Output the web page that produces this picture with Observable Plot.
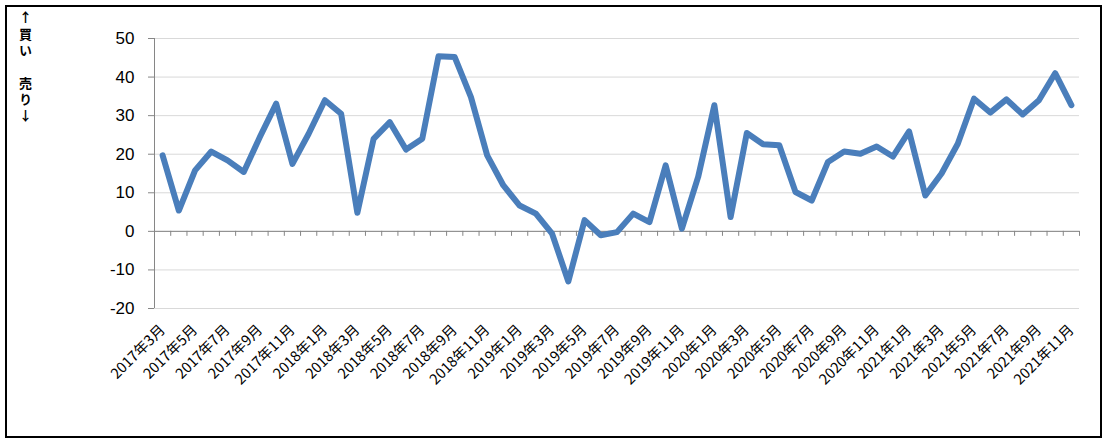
<!DOCTYPE html>
<html><head><meta charset="utf-8">
<script src="https://cdn.jsdelivr.net/npm/d3@7"></script>
<script src="https://cdn.jsdelivr.net/npm/@observablehq/plot@0.6"></script>
<style>
body{margin:0;background:#fff;}
#wrap{position:relative;width:1109px;height:446px;overflow:hidden;}
#frame{position:absolute;left:5px;top:5px;width:1093px;height:429px;border:2px solid #000;}
#side{position:absolute;left:16px;top:11px;writing-mode:vertical-rl;text-orientation:upright;
  font:bold 13px/18px "Noto Sans CJK JP";letter-spacing:3.3px;color:#000;}
#chart svg{position:absolute;left:0;top:0;}
</style></head><body>
<div id="wrap"><div id="frame"></div>
<div id="side">↑買い　売り↓</div>
<div id="chart"></div></div>
<script>
const months = [
 "2017年3月","2017年4月","2017年5月","2017年6月","2017年7月","2017年8月","2017年9月","2017年10月","2017年11月","2017年12月",
 "2018年1月","2018年2月","2018年3月","2018年4月","2018年5月","2018年6月","2018年7月","2018年8月","2018年9月","2018年10月","2018年11月","2018年12月",
 "2019年1月","2019年2月","2019年3月","2019年4月","2019年5月","2019年6月","2019年7月","2019年8月","2019年9月","2019年10月","2019年11月","2019年12月",
 "2020年1月","2020年2月","2020年3月","2020年4月","2020年5月","2020年6月","2020年7月","2020年8月","2020年9月","2020年10月","2020年11月","2020年12月",
 "2021年1月","2021年2月","2021年3月","2021年4月","2021年5月","2021年6月","2021年7月","2021年8月","2021年9月","2021年10月","2021年11月"
];
const values = [
 19.7, 5.4, 15.8, 20.7, 18.4, 15.4, 24.5, 33.1, 17.5, 25.3,
 34.0, 30.5, 4.8, 24.0, 28.3, 21.2, 24.0, 45.4, 45.2, 34.8, 19.7, 11.9,
 6.7, 4.6, -0.6, -13.0, 2.9, -1.0, -0.2, 4.6, 2.4, 17.1, 0.7, 14.1,
 32.7, 3.7, 25.5, 22.6, 22.3, 10.2, 8.0, 18.0, 20.7, 20.1, 22.0, 19.4,
 25.9, 9.3, 15.0, 22.7, 34.4, 30.8, 34.2, 30.3, 34.0, 41.0, 32.7
];
const yTicks = [-20, -10, 0, 10, 20, 30, 40, 50];
const xTickLabels = months.filter((d, i) => i % 2 === 0);

const data = months.map((m, i) => ({month: m, value: values[i]}));
const W = 1109, H = 446, ML = 154, MR = 30, MT = 38, MB = 138;
const step = (W - ML - MR) / months.length;
const axisGray = "#868686";

const chart = Plot.plot({
  width: W, height: H,
  marginLeft: ML, marginRight: MR, marginTop: MT, marginBottom: MB,
  style: {background: "transparent", overflow: "visible"},
  x: {type: "band", domain: months, padding: 0, round: false},
  y: {domain: [-20, 50]},
  marks: [
    Plot.gridY(yTicks, {stroke: "#d9d9d9", strokeOpacity: 1}),
    Plot.ruleX([months[0]], {dx: -step / 2, y1: -20, y2: 50, stroke: axisGray}),
    Plot.ruleY([0], {stroke: axisGray}),
    Plot.ruleX(months, {dx: -step / 2, y1: 0, y2: 0, insetBottom: -5, stroke: axisGray}),
    Plot.ruleX([months[months.length - 1]], {dx: step / 2, y1: 0, y2: 0, insetBottom: -5, stroke: axisGray}),
    Plot.axisY(yTicks, {tickSize: 6, tickPadding: 14, stroke: axisGray, fill: "#000",
      fontSize: 17, fontFamily: "Liberation Sans", tickFormat: d => String(d), label: null}),
    Plot.axisX(xTickLabels, {anchor: "bottom", tickSize: 0, tickPadding: 19, tickRotate: -45,
      fill: "#000", fontSize: 14.5, fontFamily: "Noto Sans CJK JP", label: null}),
    Plot.line(data, {x: "month", y: "value", stroke: "#4a7ebb", strokeWidth: 6,
      strokeLinejoin: "round", strokeLinecap: "round"})
  ]
});
document.getElementById("chart").appendChild(chart);
</script>
</body></html>
